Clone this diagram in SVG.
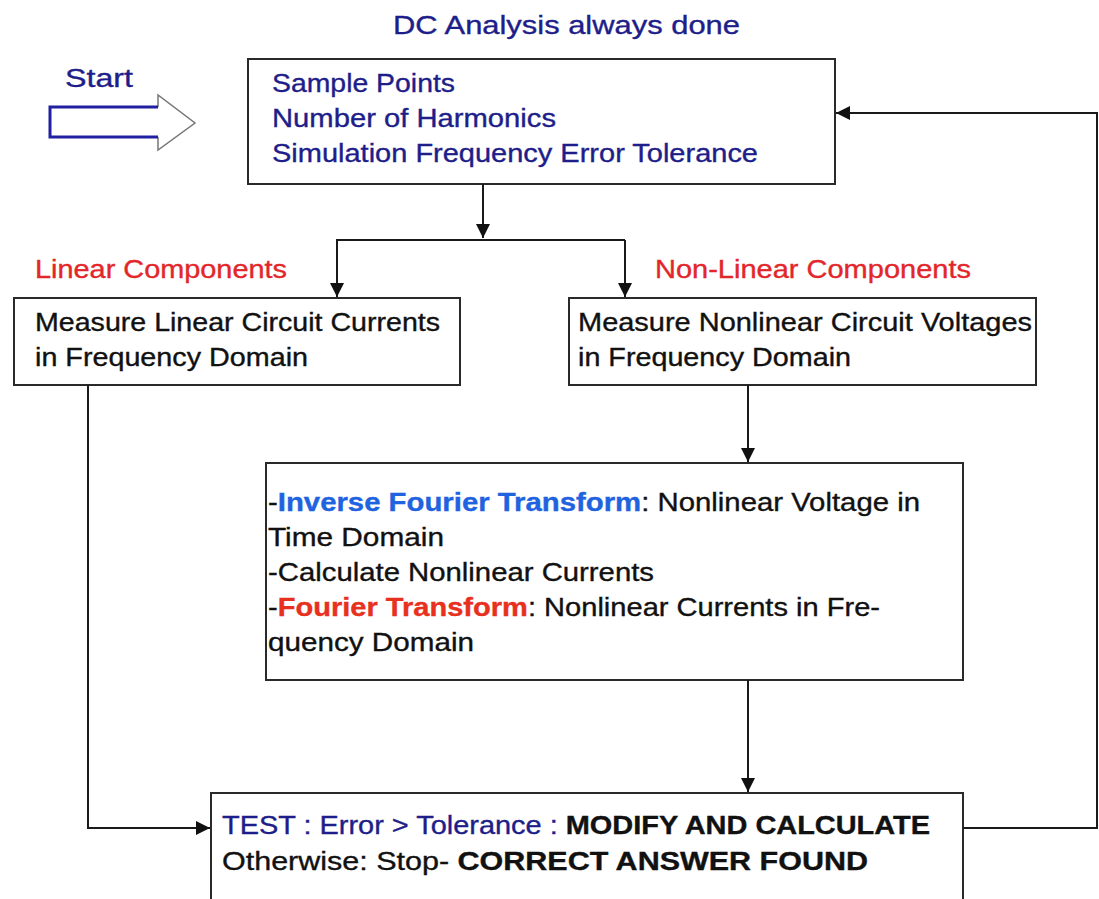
<svg xmlns="http://www.w3.org/2000/svg" width="1099" height="899" viewBox="0 0 1099 899">
<style>
.box{fill:#fff;stroke:#2a2a2a;stroke-width:2}
.t{font-family:"Liberation Sans",Arial,sans-serif;font-size:25px;fill:#111;stroke:#111;stroke-width:0.35}
.navy{fill:#1e1e8a;stroke:#1e1e8a}
.red{fill:#e3262a;stroke:#e3262a}
.blue{fill:#1f63e0;stroke:#1f63e0;font-weight:bold}
.redb{fill:#e8301e;stroke:#e8301e;font-weight:bold}
.b{font-weight:bold}
.ln{fill:none;stroke:#1a1a1a;stroke-width:2}
</style>
<defs>
<marker id="ah2" viewBox="0 0 10 10" refX="10" refY="5" markerWidth="14" markerHeight="14" markerUnits="userSpaceOnUse" orient="auto">
<path d="M0,0 L10,5 L0,10 z" fill="#111"/>
</marker>
</defs>
<rect width="1099" height="899" fill="#fff"/>

<g id="title">
<text class="t navy" x="393" y="34" font-size="28" textLength="347" lengthAdjust="spacingAndGlyphs">DC Analysis always done</text>
</g>

<g id="start">
<text class="t navy" x="65" y="87" font-size="26" textLength="68" lengthAdjust="spacingAndGlyphs">Start</text>
<path d="M158,107 L158,95 L195,123 L158,150 L158,137" fill="#fff" stroke="#777" stroke-width="1.5"/>
<path d="M158,107 L50,107 L50,137 L158,137" fill="#fff" stroke="#2020a0" stroke-width="3"/>
</g>

<g id="params">
<rect class="box" x="248" y="59" width="587" height="125"/>
<text class="t navy" x="272" y="92" textLength="183" lengthAdjust="spacingAndGlyphs">Sample Points</text>
<text class="t navy" x="272" y="127" textLength="284" lengthAdjust="spacingAndGlyphs">Number of Harmonics</text>
<text class="t navy" x="272" y="162" textLength="486" lengthAdjust="spacingAndGlyphs">Simulation Frequency Error Tolerance</text>
</g>

<g id="linear">
<text class="t red" x="35" y="278" textLength="252" lengthAdjust="spacingAndGlyphs">Linear Components</text>
<rect class="box" x="14" y="298" width="446" height="87"/>
<text class="t" x="35" y="331" textLength="405" lengthAdjust="spacingAndGlyphs">Measure Linear Circuit Currents</text>
<text class="t" x="35" y="366" textLength="273" lengthAdjust="spacingAndGlyphs">in Frequency Domain</text>
</g>

<g id="nonlinear">
<text class="t red" x="655" y="278" textLength="316" lengthAdjust="spacingAndGlyphs">Non-Linear Components</text>
<rect class="box" x="569" y="298" width="467" height="87"/>
<text class="t" x="578" y="331" textLength="454" lengthAdjust="spacingAndGlyphs">Measure Nonlinear Circuit Voltages</text>
<text class="t" x="578" y="366" textLength="273" lengthAdjust="spacingAndGlyphs">in Frequency Domain</text>
</g>

<g id="transform">
<rect class="box" x="266" y="463" width="697" height="217"/>
<text class="t" x="268" y="511" textLength="652" lengthAdjust="spacingAndGlyphs">-<tspan class="blue">Inverse Fourier Transform</tspan>: Nonlinear Voltage in</text>
<text class="t" x="268" y="546" textLength="176" lengthAdjust="spacingAndGlyphs">Time Domain</text>
<text class="t" x="268" y="581" textLength="386" lengthAdjust="spacingAndGlyphs">-Calculate Nonlinear Currents</text>
<text class="t" x="268" y="616" textLength="612" lengthAdjust="spacingAndGlyphs">-<tspan class="redb">Fourier Transform</tspan>: Nonlinear Currents in Fre-</text>
<text class="t" x="268" y="651" textLength="206" lengthAdjust="spacingAndGlyphs">quency Domain</text>
</g>

<g id="test">
<rect class="box" x="211" y="793" width="752" height="120"/>
<text class="t" x="222" y="834" font-size="27" textLength="708" lengthAdjust="spacingAndGlyphs"><tspan class="navy">TEST : Error &gt; Tolerance : </tspan><tspan class="b">MODIFY AND CALCULATE</tspan></text>
<text class="t" x="222" y="870" font-size="27" textLength="646" lengthAdjust="spacingAndGlyphs">Otherwise:  Stop- <tspan class="b">CORRECT ANSWER FOUND</tspan></text>
</g>

<g id="connectors">
<path class="ln" d="M483,184 L483,238" marker-end="url(#ah2)"/>
<path class="ln" d="M336,240 L625,240"/>
<path class="ln" d="M337,240 L337,297" marker-end="url(#ah2)"/>
<path class="ln" d="M625,240 L625,297" marker-end="url(#ah2)"/>
<path class="ln" d="M748,385 L748,462" marker-end="url(#ah2)"/>
<path class="ln" d="M748,680 L748,792" marker-end="url(#ah2)"/>
<path class="ln" d="M88,385 L88,828 L210,828" marker-end="url(#ah2)"/>
<path class="ln" d="M963,828 L1097,828 L1097,113 L836,113" marker-end="url(#ah2)"/>
</g>
</svg>
